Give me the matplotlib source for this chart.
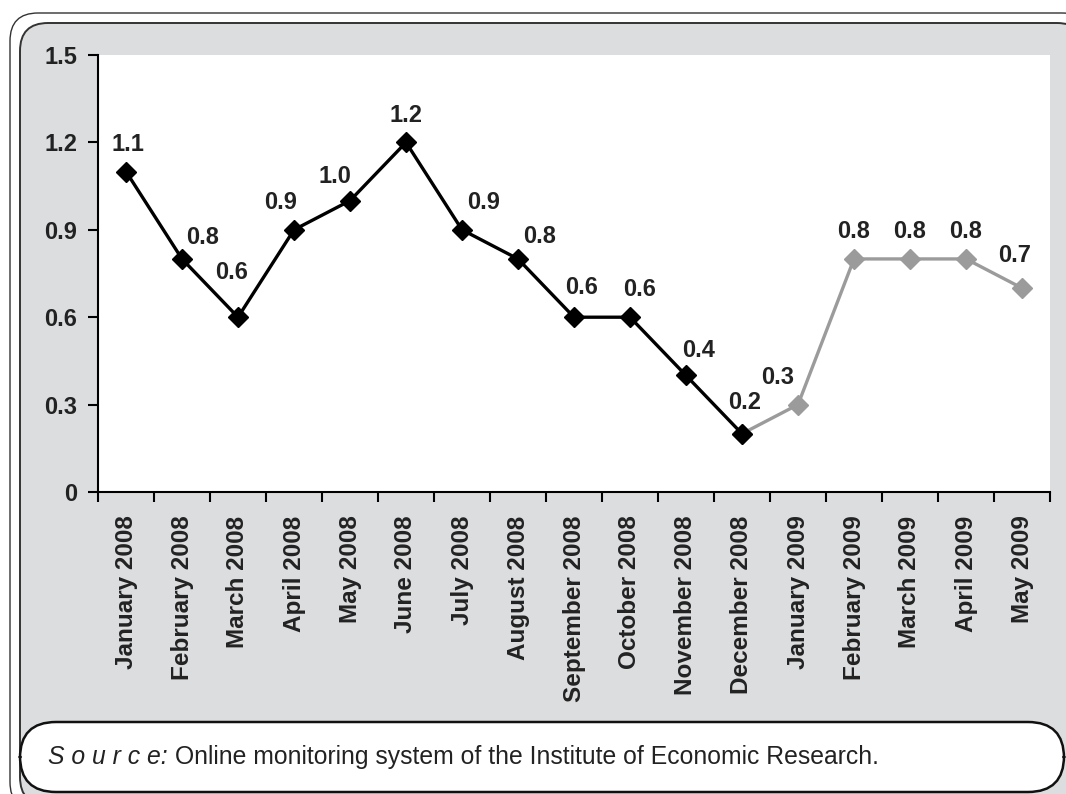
import matplotlib.pyplot as plt
from matplotlib.patches import FancyBboxPatch

months = ["January 2008", "February 2008", "March 2008", "April 2008", "May 2008",
          "June 2008", "July 2008", "August 2008", "September 2008", "October 2008",
          "November 2008", "December 2008", "January 2009", "February 2009",
          "March 2009", "April 2009", "May 2009"]
values = [1.1, 0.8, 0.6, 0.9, 1.0, 1.2, 0.9, 0.8, 0.6, 0.6, 0.4, 0.2,
          0.3, 0.8, 0.8, 0.8, 0.7]
split = 11  # last month of the black series (December 2008)
yticks = [0, 0.3, 0.6, 0.9, 1.2, 1.5]
ytick_labels = ["0", "0.3", "0.6", "0.9", "1.2", "1.5"]

# label offsets in pixels (manual placement, as in the original)
label_dx = [2, 21, -6, -13, -15, 0, 22, 22, 8, 10, 13, 3, -20, 0, 0, 0, -7]
label_dy = [27, 21, 45, 27, 24, 27, 27, 22, 30, 28, 25, 31, 27, 27, 27, 27, 33]

plt.rcParams['font.family'] = ['Liberation Sans', 'DejaVu Sans']

W, H = 1066, 794
fig = plt.figure(figsize=(W / 100, H / 100), dpi=100)
fig.patch.set_facecolor('white')


def px_box(x0, y0, x1, y1, r, **kw):
    # box given in pixel coords from top-left, drawn in inches
    p = FancyBboxPatch((x0 / 100, (H - y1) / 100), (x1 - x0) / 100, (y1 - y0) / 100,
                       boxstyle=f"round,pad=0,rounding_size={r / 100}",
                       transform=fig.dpi_scale_trans, **kw)
    fig.patches.append(p)


px_box(10, 13, 1090, 810, 28, facecolor='white', edgecolor='#333333', lw=1.0, zorder=-3)
px_box(20, 23, 1085, 805, 28, facecolor='#dcdddf', edgecolor='#333333', lw=1.4, zorder=-2)
px_box(20, 722, 1064, 792, 36, facecolor='white', edgecolor='#111111', lw=1.8, zorder=-1)

fig.text(48 / W, 1 - 757 / H, "S o u r c e:", style='italic', fontsize=17.8,
         color='#222222', va='center', ha='left')
fig.text(175 / W, 1 - 757 / H, "Online monitoring system of the Institute of Economic Research.",
         fontsize=17.8, color='#222222', va='center', ha='left')

ax = fig.add_axes([98 / W, (H - 492) / H, (1050 - 98) / W, (492 - 55) / H])
ax.set_facecolor('white')
x = list(range(len(months)))

ax.plot(x[split:], values[split:], color='#9b9b9b', lw=2.4, marker='D', ms=10,
        mfc='#9b9b9b', mec='#9b9b9b', zorder=3, clip_on=False)
ax.plot(x[:split + 1], values[:split + 1], color='black', lw=2.4, marker='D', ms=10,
        mfc='black', mec='black', zorder=4, clip_on=False)

for i, v in enumerate(values):
    ax.annotate(f"{v:.1f}", (i, v), xytext=(label_dx[i], label_dy[i]),
                textcoords='offset pixels', ha='center', va='center',
                fontsize=17, fontweight='bold', color='#222222')

ax.set_xlim(-0.5, len(months) - 0.5)
ax.set_ylim(0, 1.5)
ax.set_yticks(yticks)
ax.set_yticklabels(ytick_labels, fontsize=17, fontweight='bold', color='#222222')
ax.set_xticks(x)
ax.set_xticklabels(months, rotation=90, fontsize=17.5, fontweight='bold', color='#222222')
ax.set_xticks([i - 0.5 for i in range(len(months) + 1)], minor=True)
ax.tick_params(axis='x', which='major', length=0, pad=17)
ax.tick_params(axis='x', which='minor', length=7, width=1.5, direction='out')
ax.tick_params(axis='y', length=7, width=1.5, pad=8)
for s in ['top', 'right']:
    ax.spines[s].set_visible(False)
for s in ['left', 'bottom']:
    ax.spines[s].set_linewidth(1.5)

fig.savefig('out.png', dpi=100)
